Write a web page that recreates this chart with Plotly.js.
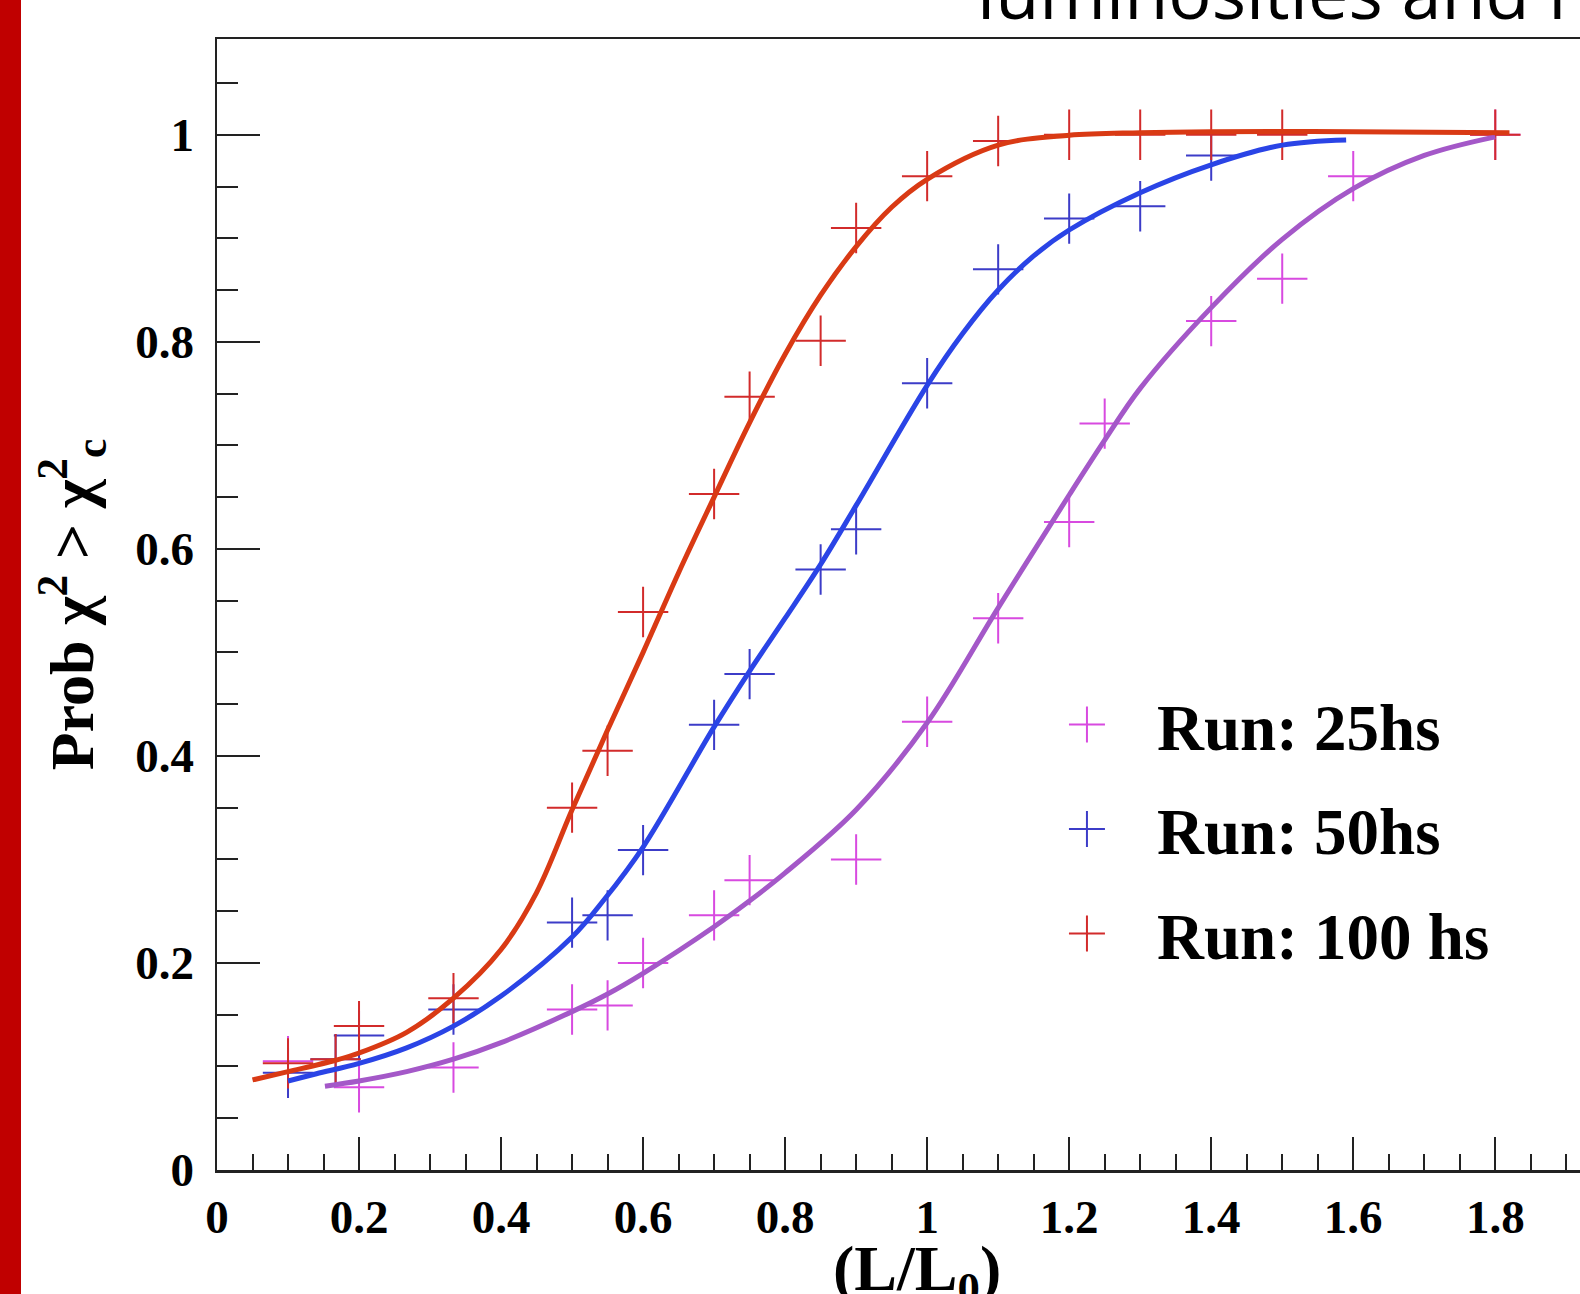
<!DOCTYPE html>
<html><head><meta charset="utf-8">
<script src="https://cdn.plot.ly/plotly-3.0.1.min.js"></script>
<style>
html,body{margin:0;padding:0;overflow:hidden;background:#fff;width:1580px;height:1294px;}
#bar{position:absolute;left:0;top:0;width:21px;height:1294px;background:#c00000;z-index:5}
#chart{position:absolute;left:0;top:0;width:1660px;height:1294px;}
</style></head><body>
<div id="chart"></div><div id="bar"></div>
<script>
// ---- data points (markers) ----
const x25 = [0.1, 0.2, 0.333, 0.5, 0.55, 0.6, 0.7, 0.75, 0.9, 1.0, 1.1, 1.2, 1.25, 1.4, 1.5, 1.6, 1.8];
const y25 = [0.105, 0.080, 0.099, 0.155, 0.159, 0.200, 0.246, 0.280, 0.300, 0.433, 0.533, 0.626, 0.721, 0.820, 0.861, 0.960, 1.0];

const x50 = [0.1, 0.167, 0.2, 0.333, 0.5, 0.55, 0.6, 0.7, 0.75, 0.85, 0.9, 1.0, 1.1, 1.2, 1.3, 1.4];
const y50 = [0.094, 0.107, 0.130, 0.155, 0.239, 0.246, 0.309, 0.430, 0.479, 0.580, 0.619, 0.760, 0.870, 0.919, 0.931, 0.980];

const x100 = [0.1, 0.167, 0.2, 0.333, 0.5, 0.55, 0.6, 0.7, 0.75, 0.85, 0.9, 1.0, 1.1, 1.2, 1.3, 1.4, 1.5, 1.8];
const y100 = [0.103, 0.107, 0.139, 0.166, 0.350, 0.405, 0.539, 0.653, 0.747, 0.801, 0.910, 0.960, 0.994, 1.0, 1.0, 1.0, 1.0, 1.0];

// ---- fitted curves ----
const fitX25 = [0.152, 0.2, 0.267, 0.333, 0.4, 0.5, 0.55, 0.6, 0.7, 0.75, 0.8, 0.9, 1.0, 1.1, 1.2, 1.25, 1.3, 1.4, 1.5, 1.6, 1.7, 1.8];
const fitY25 = [0.081, 0.086, 0.095, 0.107, 0.123, 0.153, 0.170, 0.190, 0.235, 0.260, 0.287, 0.348, 0.432, 0.543, 0.652, 0.705, 0.755, 0.833, 0.899, 0.948, 0.980, 0.998];

const fitX50 = [0.1, 0.14, 0.2, 0.267, 0.333, 0.4, 0.5, 0.545, 0.6, 0.7, 0.75, 0.8, 0.85, 0.9, 1.0, 1.05, 1.1, 1.15, 1.2, 1.3, 1.4, 1.5, 1.59];
const fitY50 = [0.086, 0.093, 0.103, 0.118, 0.139, 0.168, 0.225, 0.261, 0.312, 0.428, 0.482, 0.533, 0.585, 0.642, 0.758, 0.808, 0.850, 0.883, 0.908, 0.944, 0.971, 0.990, 0.995];

const fitX100 = [0.05, 0.1, 0.167, 0.2, 0.267, 0.333, 0.4, 0.45, 0.5, 0.55, 0.6, 0.65, 0.7, 0.75, 0.8, 0.85, 0.9, 0.95, 1.0, 1.1, 1.2, 1.3, 1.4, 1.6, 1.82];
const fitY100 = [0.087, 0.095, 0.106, 0.113, 0.133, 0.166, 0.213, 0.268, 0.348, 0.425, 0.500, 0.577, 0.650, 0.722, 0.788, 0.845, 0.892, 0.930, 0.957, 0.990, 0.9995, 1.002, 1.003, 1.003, 1.002];

const seriesNames = ["Run: 25hs", "Run: 50hs", "Run: 100 hs"];
const xTickVals = [0, 0.2, 0.4, 0.6, 0.8, 1, 1.2, 1.4, 1.6, 1.8];
const yTickVals = [0, 0.2, 0.4, 0.6, 0.8, 1];
const xTitle = "(L/L<sub>0</sub>)";
const yTitle = "Prob χ<sup>2</sup> > χ<sup>2</sup><sub>c</sub>";
const slideTitle = "luminosities and r";

const markerColors = ["#d84ae0", "#3c3cc8", "#d22b2b"];
const lineColors = ["#a458c8", "#2a44e6", "#d93a14"];

const serif = "Liberation Serif, Times New Roman, serif";

function markerTrace(x, y, i) {
  return {
    x: x, y: y, type: "scatter", mode: "markers", name: seriesNames[i],
    legendgroup: "g" + i,
    marker: {symbol: "cross-thin", size: 36, color: markerColors[i], line: {width: 2, color: markerColors[i]}},
    hoverinfo: "x+y"
  };
}
function lineTrace(x, y, i) {
  return {
    x: x, y: y, type: "scatter", mode: "lines", showlegend: false,
    line: {color: lineColors[i], width: 5, shape: "spline", smoothing: 1},
    hoverinfo: "skip"
  };
}

const data = [
  markerTrace(x25, y25, 0), markerTrace(x50, y50, 1), markerTrace(x100, y100, 2),
  lineTrace(fitX25, fitY25, 0), lineTrace(fitX50, fitY50, 1), lineTrace(fitX100, fitY100, 2)
];

const tickFont = {family: serif, size: 47, color: "#000", weight: "bold"};

const layout = {
  width: 1660, height: 1294,
  margin: {l: 217, r: 44, t: 39, b: 124},
  paper_bgcolor: "#fff", plot_bgcolor: "#fff",
  showlegend: true,
  xaxis: {
    range: [0, 1.97], tickvals: xTickVals, ticks: "inside", ticklen: 33, tickwidth: 2, tickcolor: "#222",
    minor: {dtick: 0.05, tick0: 0, ticks: "inside", ticklen: 16, tickwidth: 2, tickcolor: "#222"},
    showgrid: false, zeroline: false, showline: true, linecolor: "#222", linewidth: 2.5, mirror: true,
    tickfont: tickFont, ticklabelstandoff: 4
  },
  yaxis: {
    range: [0, 1.0925], tickvals: yTickVals, ticks: "inside", ticklen: 43, tickwidth: 2, tickcolor: "#222",
    minor: {dtick: 0.05, tick0: 0, ticks: "inside", ticklen: 21, tickwidth: 2, tickcolor: "#222"},
    showgrid: false, zeroline: false, showline: true, linecolor: "#222", linewidth: 2.5, mirror: true,
    tickfont: tickFont, ticklabelstandoff: 11,
    title: {text: yTitle, font: {family: serif, size: 62, color: "#000", weight: "bold"}, standoff: 22}
  },
  legend: {
    x: 0.5718, y: 0.437, xanchor: "left", yanchor: "top",
    bgcolor: "rgba(0,0,0,0)", borderwidth: 0,
    font: {family: serif, size: 65, color: "#000", weight: "bold"},
    itemwidth: 130, tracegroupgap: 17, itemclick: false, itemdoubleclick: false
  },
  annotations: [
    {
      text: slideTitle, xref: "paper", yref: "paper", x: 0.542, y: 0.9973,
      xanchor: "left", yanchor: "bottom", showarrow: false,
      font: {family: "Open Sans, Noto Sans, sans-serif", size: 72, color: "#000"}
    },
    {
      text: xTitle, xref: "paper", yref: "paper", x: 0.5, y: -0.091,
      xanchor: "center", yanchor: "middle", showarrow: false,
      font: {family: serif, size: 64, color: "#000", weight: "bold"}
    }
  ]
};

function bigLegendCross() {
  document.querySelectorAll("#chart .legend .legendpoints path.scatterpts").forEach(function (p) {
    p.setAttribute("d", "M0,18V-18M18,0H-18");
    p.style.strokeWidth = "2px";
  });
}

Plotly.newPlot("chart", data, layout, {displayModeBar: false, staticPlot: true}).then(function (gd) {
  bigLegendCross();
  gd.on("plotly_afterplot", bigLegendCross);
});
</script>
</body></html>
